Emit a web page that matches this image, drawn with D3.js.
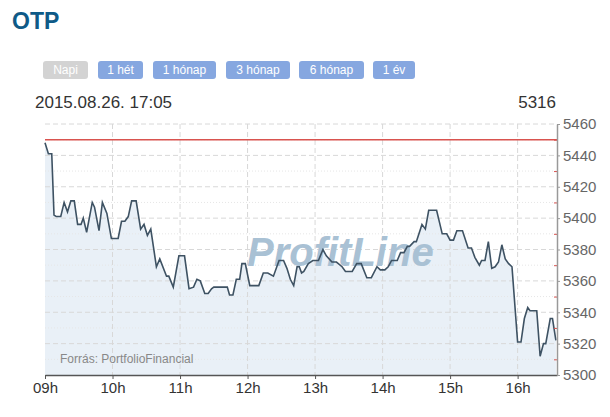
<!DOCTYPE html>
<html>
<head>
<meta charset="utf-8">
<script src="https://cdn.jsdelivr.net/npm/d3@7"></script>
<style>
	body { margin: 0; background: #fff; font-family: Arial, "Liberation Sans", sans-serif; }
	svg { display: block; }
	.grid line { stroke: #d8d8d8; stroke-dasharray: 5,3; }
	.minor line { stroke: #e6e6e6; stroke-dasharray: 1,2; }
	.xaxis text { font-size: 15px; fill: #333; }
	.yaxis text { font-size: 15px; fill: #666; }
</style>
</head>
<body>
<svg width="610" height="417"></svg>
<script>
// OTP intraday, 2015.08.26
var times = ["09:00","09:03","09:06","09:08","09:10","09:14","09:17","09:20","09:23","09:26",
	"09:29","09:32","09:34","09:37","09:42","09:44","09:48","09:51","09:55","09:59",
	"10:05","10:08","10:11","10:14","10:17","10:21","10:25","10:28","10:31","10:34",
	"10:39","10:42","10:48","10:50","10:54","10:59","11:04","11:08","11:12","11:15",
	"11:18","11:22","11:25","11:28","11:30","11:36","11:42","11:44","11:47","11:50",
	"11:53","11:55","11:58","12:02","12:05","12:10","12:14","12:18","12:23","12:28",
	"12:32","12:35","12:38","12:41","12:44","12:46","12:48","12:50","12:54","12:58",
	"13:03","13:07","13:10","13:15","13:19","13:24","13:27","13:33","13:37","13:41",
	"13:46","13:50","13:55","13:58","14:02","14:05","14:08","14:13","14:16","14:19",
	"14:22","14:24","14:28","14:30","14:35","14:38","14:41","14:48","14:53","14:57",
	"15:00","15:03","15:06","15:11","15:16","15:19","15:22","15:26","15:28","15:31",
	"15:34","15:37","15:40","15:43","15:46","15:49","15:52","15:55","16:00","16:03",
	"16:06","16:09","16:11","16:17","16:20","16:23","16:25","16:29","16:31","16:34"];
var prices = [5448,5441,5441,5402,5401,5401,5410,5404,5411,5411,
	5396,5396,5400,5391,5410,5407,5392,5410,5403,5387,
	5387,5398,5398,5401,5411,5411,5393,5396,5389,5393,
	5369,5374,5363,5363,5356,5376,5376,5355,5356,5361,
	5360,5352,5352,5355,5356,5356,5356,5351,5351,5361,
	5361,5371,5371,5357,5357,5357,5365,5365,5363,5373,
	5373,5368,5361,5357,5369,5369,5365,5366,5371,5373,
	5373,5380,5376,5372,5372,5369,5366,5366,5371,5371,
	5362,5362,5369,5367,5367,5369,5373,5373,5378,5378,
	5382,5382,5385,5385,5396,5393,5405,5405,5390,5390,
	5386,5386,5392,5392,5381,5381,5375,5370,5373,5373,
	5385,5368,5369,5372,5383,5374,5371,5369,5321,5321,
	5336,5343,5341,5341,5312,5320,5320,5336,5336,5322];
var refPrice = 5450;
var lastPrice = "5316";
var stamp = "2015.08.26. 17:05";
var hourTicks = ["09:00","10:00","11:00","12:00","13:00","14:00","15:00","16:00"];
var buttons = ["Napi","1 hét","1 hónap","3 hónap","6 hónap","1 év"];

var parse = d3.timeParse("%H:%M");
var data = times.map((t, i) => ({ t: parse(t), v: prices[i] }));

var svg = d3.select("svg");
var plotL = 45, plotR = 557, plotT = 124, plotB = 375;

var x = d3.scaleTime().domain([parse("09:00"), parse("16:35")]).range([plotL, plotR]);
var y = d3.scaleLinear().domain([5300, 5460]).range([plotB, plotT]);

// header
svg.append("text").attr("x", 12).attr("y", 29).text("OTP")
	.style("font-size", "23px").style("font-weight", "bold").style("fill", "#0f5a87");

var bx = [43, 98, 153, 226, 299, 373], bw = [45, 45, 63, 64, 65, 42];
var btn = svg.selectAll("g.btn").data(buttons).enter().append("g")
	.attr("transform", (d, i) => "translate(" + bx[i] + ",61)");
btn.append("rect").attr("width", (d, i) => bw[i]).attr("height", 18).attr("rx", 3)
	.style("fill", (d, i) => i == 0 ? "#d3d3d3" : "#86a7e0");
btn.append("text").attr("x", (d, i) => bw[i] / 2).attr("y", 13).attr("text-anchor", "middle")
	.text(d => d).style("font-size", "12px").style("fill", "#fff");

svg.append("text").attr("x", 35).attr("y", 108).text(stamp).style("font-size", "17px").style("fill", "#333");
svg.append("text").attr("x", 556).attr("y", 108).attr("text-anchor", "end").text(lastPrice)
	.style("font-size", "17px").style("fill", "#333");

// area
svg.append("path").datum(data)
	.attr("d", d3.area().x(d => x(d.t)).y0(plotB).y1(d => y(d.v)))
	.style("fill", "#e9f0f7");

// grid
svg.append("g").attr("class", "minor")
	.selectAll("line").data(d3.range(5310, 5460, 20)).enter().append("line")
	.attr("x1", plotL).attr("x2", plotR).attr("y1", d => y(d)).attr("y2", d => y(d));
svg.append("g").attr("class", "grid")
	.selectAll("line").data(d3.range(5320, 5461, 20)).enter().append("line")
	.attr("x1", plotL).attr("x2", plotR).attr("y1", d => y(d)).attr("y2", d => y(d));
svg.append("g").attr("class", "grid")
	.selectAll("line").data(hourTicks.slice(1).map(parse)).enter().append("line")
	.attr("x1", d => x(d)).attr("x2", d => x(d)).attr("y1", plotT).attr("y2", plotB);

// watermark
svg.append("text").attr("x", 247).attr("y", 266).text("ProfitLine")
	.style("font-size", "40px").style("font-weight", "bold").style("font-style", "italic")
	.style("fill", "#a9c1d4");

svg.append("text").attr("x", 60).attr("y", 363).text("Forrás: PortfolioFinancial")
	.style("font-size", "12px").style("fill", "#888");

// reference line
svg.append("line").attr("x1", plotL).attr("x2", plotR).attr("y1", y(refPrice)).attr("y2", y(refPrice))
	.style("stroke", "#d9534f").style("stroke-width", 1.5);

// price line
svg.append("path").datum(data)
	.attr("d", d3.line().x(d => x(d.t)).y(d => y(d.v)))
	.style("fill", "none").style("stroke", "#3e5263").style("stroke-width", 1.6);

// axes
var xAxis = svg.append("g").attr("class", "xaxis").attr("transform", "translate(0," + plotB + ")")
	.call(d3.axisBottom(x).tickValues(hourTicks.map(parse)).tickFormat(d3.timeFormat("%Hh"))
		.tickSize(4).tickPadding(3).tickSizeOuter(0));
xAxis.select(".domain").style("stroke", "#555").style("stroke-width", 1.5);
xAxis.selectAll(".tick line").style("stroke", "#555");
xAxis.selectAll("text").style("font-family", "Arial, 'Liberation Sans', sans-serif");

var yMinor = svg.append("g").attr("transform", "translate(" + plotR + ",0)")
	.call(d3.axisLeft(y).tickValues(d3.range(5310, 5460, 20)).tickSize(3).tickFormat(""));
yMinor.select(".domain").remove();
yMinor.selectAll(".tick line").style("stroke", "#d9534f");

var yAxis = svg.append("g").attr("class", "yaxis").attr("transform", "translate(" + plotR + ",0)")
	.call(d3.axisRight(y).tickValues(d3.range(5300, 5461, 20)).tickFormat(d3.format("d"))
		.tickSize(3).tickPadding(3).tickSizeOuter(0));
yAxis.select(".domain").style("stroke", "#999").style("stroke-width", 1.5);
yAxis.selectAll(".tick line").style("stroke", "#999");
yAxis.selectAll("text").style("font-family", "Arial, 'Liberation Sans', sans-serif");
</script>
</body>
</html>
